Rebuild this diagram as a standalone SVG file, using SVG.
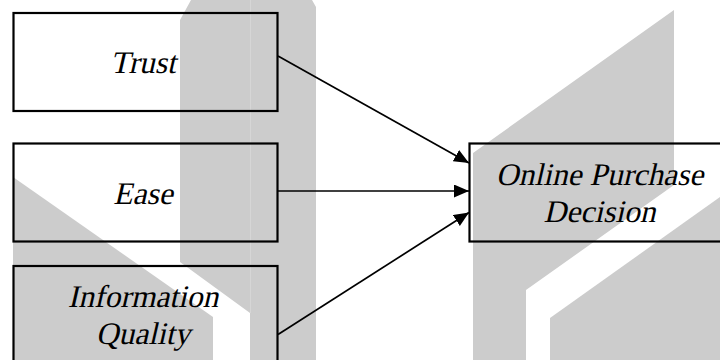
<svg xmlns="http://www.w3.org/2000/svg" width="720" height="360" viewBox="0 0 720 360">
  <style>
    .mark { fill: #cccccc; stroke: none; }
    .seam { stroke: #d6d6d6; stroke-width: 1; }
    .box { fill: none; stroke: #000000; stroke-width: 2.2; }
    /* slanted serif labels: the upright face is sheared about its baseline */
    .label { font-family: 'Liberation Serif', 'Times New Roman', serif; font-size: 31.5px; fill: #000000; text-anchor: middle; }
    .link { fill: none; stroke: #000000; stroke-width: 1.7; }
  </style>
  <defs>
    <marker id="arrow" markerUnits="userSpaceOnUse" markerWidth="16" markerHeight="14" refX="15" refY="6.5" orient="auto">
      <path d="M0,0 L15,6.5 L0,13 Z" fill="#000000"/>
    </marker>
  </defs>

  <rect width="720" height="360" fill="#ffffff"/>

  <!-- background emblem -->
  <g id="emblem">
    <polygon class="mark" points="180,20 191,0 312,0 316,7 316,360 250,360 250,313 180,262"/>
    <line class="seam" x1="250.5" y1="0" x2="250.5" y2="313"/>
    <polygon class="mark" points="13,177 213,317 213,360 13,360"/>
    <polygon class="mark" points="473,153 674,10 674,185 526,290 526,360 473,360"/>
    <polygon class="mark" points="550,318 720,197 720,360 550,360"/>
  </g>

  <g id="node-trust">
    <rect class="box" x="13.5" y="13" width="264" height="98"/>
    <text class="label" transform="translate(143,73) skewX(-13)">Trust</text>
  </g>

  <g id="node-ease">
    <rect class="box" x="13.5" y="143.5" width="264" height="98"/>
    <text class="label" transform="translate(143,204) skewX(-13)">Ease</text>
  </g>

  <g id="node-information-quality">
    <rect class="box" x="13.5" y="266" width="264" height="98"/>
    <text class="label" transform="translate(143,307) skewX(-13)">Information</text>
    <text class="label" transform="translate(143,344) skewX(-13)">Quality</text>
  </g>

  <g id="node-online-purchase-decision">
    <rect class="box" x="469.5" y="143.5" width="264" height="98"/>
    <text class="label" transform="translate(599.5,185) skewX(-13)">Online Purchase</text>
    <text class="label" transform="translate(599.5,222) skewX(-13)">Decision</text>
  </g>

  <g id="connectors">
    <line class="link" x1="278" y1="56" x2="469" y2="163" marker-end="url(#arrow)"/>
    <line class="link" x1="278" y1="191" x2="469" y2="191" marker-end="url(#arrow)"/>
    <line class="link" x1="278" y1="334.5" x2="469" y2="212.5" marker-end="url(#arrow)"/>
  </g>
</svg>
